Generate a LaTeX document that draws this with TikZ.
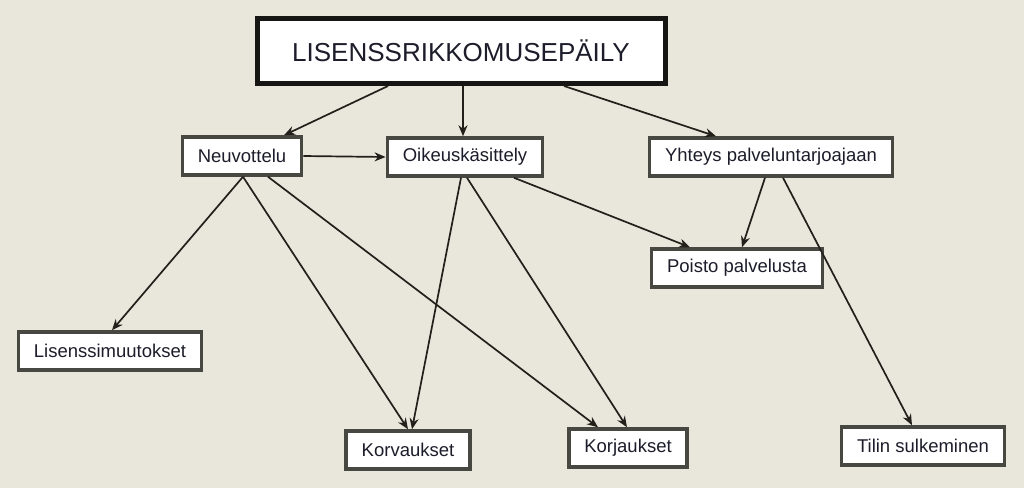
\documentclass[tikz,border=0pt]{standalone}
\usepackage{fontspec}
\setmainfont{Liberation Sans}
\usepackage{xcolor}
\usepackage{tikz}
\usetikzlibrary{positioning, arrows.meta}
\definecolor{BgBeige}{RGB}{233,231,220}
\definecolor{BoxGray}{RGB}{72,72,66}
\definecolor{TitleBlack}{RGB}{22,22,20}
\definecolor{InkNavy}{RGB}{28,28,42}
\definecolor{ArrowInk}{RGB}{35,31,26}

\tikzset{
  leafbox/.style={draw=BoxGray, line width=3.5pt, fill=white, text=InkNavy,
    font=\fontsize{18.5}{20}\selectfont, inner xsep=15.5pt, minimum height=38pt},
  titlebox/.style={draw=TitleBlack, line width=5pt, fill=white, text=InkNavy,
    font=\fontsize{26}{30}\selectfont, minimum width=408pt, minimum height=65pt},
  flow/.style={draw=ArrowInk, line width=1.7pt, -{Stealth[length=11pt,width=9pt]}}
}

\begin{document}
\begin{tikzpicture}[x=1pt, y=-1pt]
        % ---- Canvas ----
        \fill[BgBeige] (0,0) rectangle (1024,488);
        \useasboundingbox (0,0) rectangle (1024,488);

        % ---- Boxes ----
        \node[titlebox] (title) at (461,51) {LISENSSRIKKOMUSEPÄILY};
        \node[leafbox] (neu)  at (242,156) {Neuvottelu};
        \node[leafbox] (oik)  at (465,157) {Oikeuskäsittely};
        \node[leafbox] (yht)  at (771,157) {Yhteys palveluntarjoajaan};
        \node[leafbox] (poi)  at (737,268) {Poisto palvelusta};
        \node[leafbox] (lis)  at (110,351) {Lisenssimuutokset};
        \node[leafbox] (kor)  at (408,450) {Korvaukset};
        \node[leafbox] (korj) at (628,448) {Korjaukset};
        \node[leafbox] (til)  at (923,446) {Tilin sulkeminen};

        % ---- From the title ----
        \draw[flow] ([xshift=-73pt]title.south) -- ([xshift=42pt]neu.north);
        \draw[flow] ([xshift=2pt]title.south) -- ([xshift=-2pt]oik.north);
        \draw[flow] ([xshift=103pt]title.south) -- ([xshift=-55pt]yht.north);

        % ---- Neuvottelu ----
        \draw[flow] (neu.east) -- (oik.west);
        \draw[flow] ([xshift=1pt]neu.south) -- ([xshift=2pt]lis.north);
        \draw[flow] ([xshift=1pt]neu.south) -- (kor.north);
        \draw[flow] ([xshift=26pt]neu.south) -- ([xshift=-30pt]korj.north);

        % ---- Oikeuskasittely ----
        \draw[flow] ([xshift=-4pt]oik.south) -- ([xshift=4pt]kor.north);
        \draw[flow] ([xshift=2pt]oik.south) -- ([xshift=-1pt]korj.north);
        \draw[flow] ([xshift=49pt]oik.south) -- ([xshift=-47pt]poi.north);

        % ---- Yhteys ----
        \draw[flow] ([xshift=-6pt]yht.south) -- ([xshift=5pt]poi.north);
        \draw[flow] ([xshift=12pt]yht.south) -- ([xshift=-11pt]til.north);
\end{tikzpicture}
\end{document}
